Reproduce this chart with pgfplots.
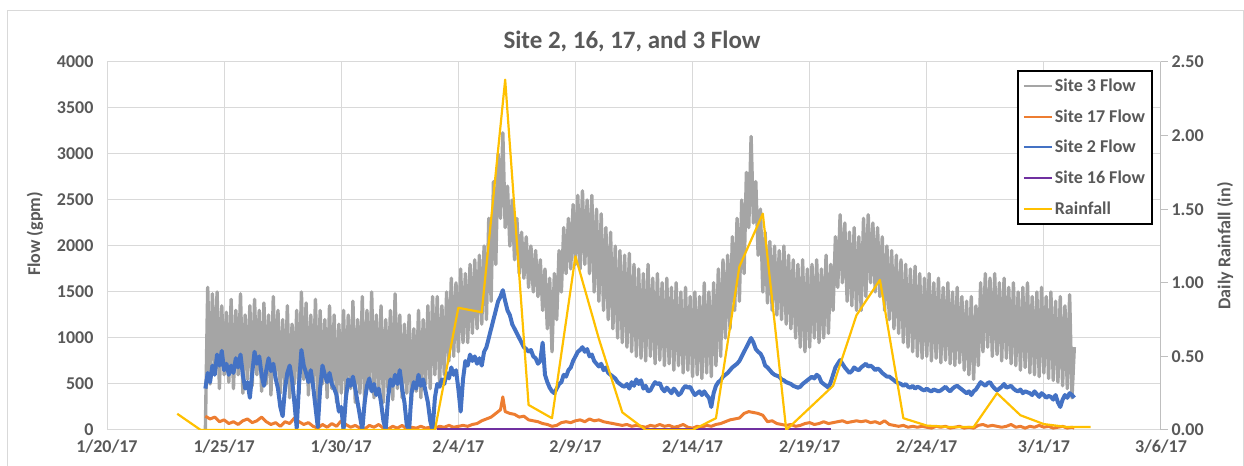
\documentclass[border=0pt]{standalone}
\usepackage{fontspec}
\setmainfont{Carlito}
\usepackage{pgfplots}
\pgfplotsset{compat=1.18}
\definecolor{cgray}{HTML}{A5A5A5}
\definecolor{corange}{HTML}{ED7D31}
\definecolor{cblue}{HTML}{4472C4}
\definecolor{cpurple}{HTML}{7030A0}
\definecolor{cyellow}{HTML}{FFC000}
\definecolor{ctext}{HTML}{595959}
\definecolor{cgrid}{HTML}{D9D9D9}
\definecolor{caxis}{HTML}{BFBFBF}
\begin{document}
\begin{tikzpicture}[x=1bp,y=1bp]
\useasboundingbox (0,0) rectangle (1244,466);
\draw[cgrid, line width=1bp] (7,-20) -- (7,455) -- (1243,455) -- (1243,-20);
\begin{axis}[
 at={(107bp,36bp)}, anchor=south west, scale only axis, width=1054bp, height=368bp,
 xmin=0, xmax=45, ymin=0, ymax=4000,
 xtick={0,5,10,15,20,25,30,35,40,45},
 xticklabels={1/20/17,1/25/17,1/30/17,2/4/17,2/9/17,2/14/17,2/19/17,2/24/17,3/1/17,3/6/17},
 ytick={0,500,1000,1500,2000,2500,3000,3500,4000},
 axis line style={draw=none}, major tick length=0pt,
 grid=major, major grid style={cgrid, line width=1bp},
 tick label style={font=\fontsize{18bp}{21bp}\selectfont\bfseries, text=ctext},
 /pgf/number format/assume math mode=true,
 /pgf/number format/1000 sep={},
 yticklabel style={xshift=-10bp},
 xticklabel style={yshift=-6bp},
]
\addplot[cgray, line width=3.4bp, line join=round] coordinates {
(4.2,0)(4.3,1550)(4.4,500)(4.5,1480)(4.6,650)(4.7,1500)(4.8,450)(4.9,1350)(5.0,600)(5.1,1280)(5.2,520)(5.3,1420)(5.4,450)(5.5,1300)(5.6,600)(5.7,1480)(5.8,400)(5.9,1250)(6.0,550)(6.1,1350)(6.2,480)(6.3,1420)(6.4,600)(6.5,1300)(6.6,420)(6.7,1380)(6.8,500)(6.9,1250)(7.0,380)(7.1,1450)(7.2,550)(7.3,1300)(7.4,400)(7.5,1200)(7.6,450)(7.7,1350)(7.8,350)(7.9,1150)(8.0,500)(8.1,1300)(8.2,400)(8.3,1500)(8.4,550)(8.5,1380)(8.6,380)(8.7,1250)(8.8,450)(8.9,1420)(9.0,300)(9.1,1300)(9.2,500)(9.3,1200)(9.4,350)(9.5,1350)(9.6,450)(9.7,1250)(9.8,300)(9.9,1150)(10.0,400)(10.1,1300)(10.2,350)(10.3,1250)(10.4,450)(10.5,1400)(10.6,300)(10.7,1200)(10.8,400)(10.9,1450)(11.0,280)(11.1,1300)(11.2,450)(11.3,1500)(11.4,350)(11.5,1250)(11.6,400)(11.7,1350)(11.8,300)(11.9,1200)(12.0,420)(12.1,1300)(12.2,330)(12.3,1480)(12.4,450)(12.5,1250)(12.6,350)(12.7,1150)(12.8,400)(12.9,1250)(13.0,300)(13.1,1100)(13.2,420)(13.3,1300)(13.4,350)(13.5,1200)(13.6,500)(13.7,1350)(13.8,450)(13.9,1450)(14.0,600)(14.1,1450)
(14.2,500)(14.3,1350)(14.4,600)(14.5,1500)(14.6,750)(14.7,1650)(14.8,800)(14.9,1600)(15.0,850)(15.1,1750)(15.2,950)(15.3,1700)(15.4,950)(15.5,1800)(15.6,1050)(15.7,1850)(15.8,1100)(15.9,1900)(16.0,1150)(16.1,2000)(16.2,1200)(16.3,2300)(16.4,1400)(16.5,2700)(16.6,1800)(16.7,3000)(16.8,2300)(16.9,3230)(17.0,2200)(17.1,2650)(17.2,2000)(17.3,2500)(17.4,1850)(17.5,2300)(17.6,1700)(17.7,2150)(17.8,1650)(17.9,2100)(18.0,1550)(18.1,2000)(18.2,1500)(18.3,1950)(18.4,1450)(18.5,1850)(18.6,1300)(18.7,1750)(18.8,1100)(18.9,1650)(19.0,850)(19.1,1700)(19.2,1200)(19.3,1950)(19.4,1500)(19.5,2200)(19.6,1700)(19.7,2300)(19.8,1750)(19.9,2450)(20.0,1800)(20.1,2550)
(20.2,1750)(20.3,2600)(20.4,1800)(20.5,2500)(20.6,1700)(20.7,2550)(20.8,1500)(20.9,2400)(21.0,1400)(21.1,2350)(21.2,1300)(21.3,2200)(21.4,1200)(21.5,2150)(21.6,1100)(21.7,2000)(21.8,1000)(21.9,1950)(22.0,950)(22.1,1900)(22.2,900)(22.3,1920)(22.4,850)(22.5,1800)(22.6,800)(22.7,1750)(22.8,780)(22.9,1700)(23.0,750)(23.1,1800)(23.2,800)(23.3,1650)(23.4,720)(23.5,1700)(23.6,760)(23.7,1600)(23.8,700)(23.9,1650)(24.0,720)(24.1,1550)(24.2,650)(24.3,1600)(24.4,700)(24.5,1500)(24.6,620)(24.7,1550)(24.8,650)(24.9,1450)(25.0,580)(25.1,1500)(25.2,600)(25.3,1450)(25.4,560)(25.5,1600)(25.6,620)(25.7,1500)(25.8,580)(25.9,1600)(26.0,700)(26.1,1750)
(26.2,800)(26.3,1850)(26.4,1000)(26.5,1900)(26.6,1100)(26.7,2100)(26.8,1300)(26.9,2300)(27.0,1400)(27.1,2500)(27.2,1700)(27.3,2800)(27.4,2200)(27.5,3190)(27.6,2250)(27.7,2700)(27.8,1900)(27.9,2400)(28.0,1500)(28.1,2150)(28.2,1380)(28.3,2050)(28.4,1300)(28.5,2000)(28.6,1250)(28.7,1950)(28.8,1200)(28.9,2000)(29.0,1150)(29.1,1900)(29.2,1100)(29.3,1850)(29.4,1000)(29.5,1800)(29.6,900)(29.7,1850)(29.8,850)(29.9,1750)(30.0,900)(30.1,1800)(30.2,1000)(30.3,1850)(30.4,950)(30.5,1750)(30.6,1000)(30.7,1900)(30.8,1050)(30.9,1800)(31.0,1300)(31.1,2100)(31.2,1550)(31.3,2340)(31.4,1600)(31.5,2250)(31.6,1400)(31.7,2150)(31.8,1350)(31.9,2200)(32.0,1300)(32.1,2100)
(32.2,1300)(32.3,2300)(32.4,1450)(32.5,2340)(32.6,1600)(32.7,2250)(32.8,1500)(32.9,2200)(33.0,1450)(33.1,2100)(33.2,1300)(33.3,2000)(33.4,1200)(33.5,1950)(33.6,1100)(33.7,1900)(33.8,1050)(33.9,1850)(34.0,950)(34.1,1800)(34.2,900)(34.3,1750)(34.4,850)(34.5,1780)(34.6,800)(34.7,1700)(34.8,780)(34.9,1650)(35.0,800)(35.1,1700)(35.2,750)(35.3,1600)(35.4,780)(35.5,1650)(35.6,730)(35.7,1550)(35.8,760)(35.9,1600)(36.0,720)(36.1,1500)(36.2,700)(36.3,1550)(36.4,730)(36.5,1450)(36.6,650)(36.7,1400)(36.8,600)(36.9,1450)(37.0,550)(37.1,1350)(37.2,700)(37.3,1600)(37.4,850)(37.5,1700)(37.6,900)(37.7,1650)(37.8,800)(37.9,1700)(38.0,820)(38.1,1600)(38.2,750)(38.3,1650)(38.4,780)(38.5,1550)(38.6,720)(38.7,1600)(38.8,700)(38.9,1500)(39.0,650)(39.1,1550)(39.2,680)(39.3,1600)(39.4,620)(39.5,1450)(39.6,600)(39.7,1500)(39.8,580)(39.9,1550)(40.0,620)(40.1,1450)(40.2,560)(40.3,1500)(40.4,540)(40.5,1400)(40.6,520)(40.7,1450)(40.8,480)(40.9,1350)(41.0,450)(41.1,1470)(41.2,350)(41.3,900)
};
\addplot[corange, line width=3bp, line join=round] coordinates {
(4.2,150)(4.4,120)(4.6,140)(4.8,90)(5.0,110)(5.2,70)(5.4,90)(5.6,60)(5.8,100)(6.0,120)(6.2,80)(6.4,100)(6.6,140)(6.8,90)(7.0,60)(7.2,80)(7.4,40)(7.6,90)(7.8,70)(8.0,130)(8.2,90)(8.4,60)(8.6,80)(8.8,40)(9.0,20)(9.2,60)(9.4,30)(9.6,70)(9.8,40)(10.0,100)(10.2,60)(10.4,30)(10.6,50)(10.8,20)(11.0,10)(11.2,50)(11.4,30)(11.6,60)(11.8,20)(12.0,10)(12.2,40)(12.4,20)(12.6,50)(12.8,10)(13.0,30)(13.2,20)(13.4,40)(13.6,20)(13.8,30)(14.0,20)(14.2,40)(14.4,30)(14.6,50)(14.8,30)(15.0,40)(15.2,50)(15.4,40)(15.6,60)(15.8,70)(16.0,100)(16.2,120)(16.4,140)(16.6,180)(16.8,220)(16.9,360)(17.0,200)(17.2,180)(17.4,170)(17.6,140)(17.8,150)(18.0,110)(18.2,100)(18.4,90)(18.6,70)(18.8,60)(19.0,40)(19.2,50)(19.4,80)(19.6,90)(19.8,80)(20.0,100)(20.2,110)(20.4,90)(20.6,120)(20.8,100)(21.0,110)(21.2,90)(21.4,80)(21.6,70)(21.8,60)(22.0,50)(22.2,60)(22.4,40)(22.6,50)(22.8,40)(23.0,30)(23.2,50)(23.4,40)(23.6,60)(23.8,40)(24.0,50)(24.2,30)(24.4,40)(24.6,60)(24.8,30)(25.0,20)(25.2,40)(25.4,30)(25.6,50)(25.8,40)(26.0,60)(26.2,70)(26.4,90)(26.6,110)(26.8,120)(27.0,130)(27.2,180)(27.4,200)(27.6,190)(27.8,180)(28.0,160)(28.2,90)(28.4,100)(28.6,70)(28.8,60)(29.0,50)(29.2,60)(29.4,40)(29.6,50)(29.8,70)(30.0,80)(30.2,60)(30.4,70)(30.6,90)(30.8,70)(31.0,80)(31.2,90)(31.4,100)(31.6,80)(31.8,90)(32.0,100)(32.2,90)(32.4,100)(32.6,80)(32.8,90)(33.0,70)(33.2,100)(33.4,60)(33.6,50)(33.8,40)(34.0,50)(34.2,30)(34.4,40)(34.6,30)(34.8,40)(35.0,30)(35.2,20)(35.4,40)(35.6,30)(35.8,40)(36.0,20)(36.2,30)(36.4,40)(36.6,20)(36.8,30)(37.0,20)(37.2,50)(37.4,60)(37.6,40)(37.8,50)(38.0,40)(38.2,30)(38.4,40)(38.6,60)(38.8,30)(39.0,40)(39.2,20)(39.4,40)(39.6,30)(39.8,50)(40.0,30)(40.2,40)(40.4,20)(40.6,30)(40.8,40)(41.0,20)(41.2,30)(41.3,20)
};
\addplot[cblue, line width=4bp, line join=round] coordinates {
(4.2,450)(4.3,620)(4.4,520)(4.5,700)(4.6,600)(4.7,820)(4.8,700)(4.9,860)(5.0,650)(5.1,720)(5.2,600)(5.3,700)(5.4,620)(5.5,780)(5.6,680)(5.7,820)(5.8,600)(5.9,450)(6.0,520)(6.1,350)(6.2,620)(6.3,850)(6.4,720)(6.5,800)(6.6,600)(6.7,480)(6.8,650)(6.9,780)(7.0,640)(7.1,720)(7.2,560)(7.3,450)(7.4,250)(7.5,150)(7.6,450)(7.7,620)(7.8,700)(7.9,550)(8.0,300)(8.1,20)(8.2,500)(8.3,870)(8.4,700)(8.5,620)(8.6,520)(8.7,650)(8.8,480)(8.9,250)(9.0,30)(9.1,450)(9.2,700)(9.3,600)(9.4,520)(9.5,620)(9.6,500)(9.7,450)(9.8,380)(9.9,200)(10.0,250)(10.1,0)(10.2,350)(10.3,550)(10.4,480)(10.5,580)(10.6,450)(10.7,300)(10.8,150)(10.9,0)(11.0,300)(11.1,480)(11.2,560)(11.3,420)(11.4,500)(11.5,380)(11.6,450)(11.7,300)(11.8,100)(11.9,0)(12.0,350)(12.1,550)(12.2,480)(12.3,600)(12.4,500)(12.5,650)(12.6,450)(12.7,300)(12.8,50)(12.9,0)(13.0,400)(13.1,520)(13.2,450)(13.3,600)(13.4,480)(13.5,550)(13.6,420)(13.7,300)(13.8,100)(13.9,0)(14.0,350)(14.1,500)
(14.2,470)(14.3,550)(14.4,500)(14.5,620)(14.6,560)(14.7,680)(14.8,600)(14.9,650)(15.0,450)(15.1,200)(15.2,550)(15.3,750)(15.4,700)(15.5,820)(15.6,750)(15.7,800)(15.8,720)(15.9,780)(16.0,700)(16.1,850)(16.2,900)(16.3,1000)(16.4,1100)(16.5,1200)(16.6,1300)(16.7,1400)(16.8,1450)(16.9,1520)(17.0,1400)(17.1,1300)(17.2,1250)(17.3,1150)(17.4,1100)(17.5,1050)(17.6,1000)(17.7,950)(17.8,900)(17.9,880)(18.0,850)(18.1,870)(18.2,800)(18.3,780)(18.4,720)(18.5,750)(18.6,950)(18.7,600)(18.8,520)(18.9,460)(19.0,420)(19.1,400)(19.2,450)(19.3,500)(19.4,520)(19.5,600)(19.6,580)(19.7,650)(19.8,680)(19.9,750)(20.0,800)(20.1,850)
(20.2,870)(20.3,900)(20.4,850)(20.5,880)(20.6,800)(20.7,820)(20.8,750)(20.9,720)(21.0,690)(21.1,720)(21.2,650)(21.3,680)(21.4,620)(21.5,600)(21.6,580)(21.7,560)(21.8,520)(21.9,500)(22.0,480)(22.1,470)(22.2,500)(22.3,450)(22.4,520)(22.5,480)(22.6,550)(22.7,500)(22.8,540)(22.9,450)(23.0,480)(23.1,420)(23.2,430)(23.3,480)(23.4,520)(23.5,500)(23.6,510)(23.7,450)(23.8,420)(23.9,460)(24.0,430)(24.1,400)(24.2,450)(24.3,420)(24.4,380)(24.5,400)(24.6,450)(24.7,480)(24.8,460)(24.9,470)(25.0,420)(25.1,380)(25.2,400)(25.3,420)(25.4,380)(25.5,420)(25.6,380)(25.7,350)(25.8,250)(25.9,400)(26.0,480)(26.1,520)
(26.2,540)(26.3,580)(26.4,600)(26.5,620)(26.6,650)(26.7,680)(26.8,700)(26.9,720)(27.0,750)(27.1,800)(27.2,850)(27.3,900)(27.4,950)(27.5,1000)(27.6,950)(27.7,880)(27.8,850)(27.9,830)(28.0,780)(28.1,700)(28.2,680)(28.3,650)(28.4,620)(28.5,600)(28.6,590)(28.7,580)(28.8,550)(28.9,540)(29.0,520)(29.1,510)(29.2,500)(29.3,480)(29.4,470)(29.5,460)(29.6,470)(29.7,500)(29.8,520)(29.9,540)(30.0,560)(30.1,580)(30.2,560)(30.3,600)(30.4,580)(30.5,520)(30.6,500)(30.7,480)(30.8,460)(30.9,520)(31.0,600)(31.1,680)(31.2,720)(31.3,760)(31.4,720)(31.5,680)(31.6,650)(31.7,620)(31.8,640)(31.9,680)(32.0,660)(32.1,650)
(32.2,680)(32.3,700)(32.4,720)(32.5,690)(32.6,700)(32.7,680)(32.8,650)(32.9,670)(33.0,650)(33.1,620)(33.2,600)(33.3,580)(33.4,580)(33.5,560)(33.6,540)(33.7,520)(33.8,510)(33.9,500)(34.0,480)(34.1,500)(34.2,470)(34.3,460)(34.4,480)(34.5,450)(34.6,470)(34.7,460)(34.8,440)(34.9,430)(35.0,450)(35.1,430)(35.2,420)(35.3,440)(35.4,430)(35.5,420)(35.6,430)(35.7,450)(35.8,470)(35.9,440)(36.0,420)(36.1,450)(36.2,470)(36.3,480)(36.4,460)(36.5,440)(36.6,420)(36.7,400)(36.8,420)(36.9,380)(37.0,420)(37.1,440)(37.2,480)(37.3,520)(37.4,500)(37.5,480)(37.6,510)(37.7,520)(37.8,480)(37.9,450)(38.0,430)(38.1,450)(38.2,470)(38.3,500)(38.4,460)(38.5,470)(38.6,480)(38.7,450)(38.8,430)(38.9,420)(39.0,440)(39.1,400)(39.2,420)(39.3,410)(39.4,400)(39.5,380)(39.6,420)(39.7,390)(39.8,360)(39.9,400)(40.0,380)(40.1,350)(40.2,370)(40.3,360)(40.4,330)(40.5,380)(40.6,300)(40.7,250)(40.8,330)(40.9,380)(41.0,350)(41.1,400)(41.2,380)(41.3,350)
};
\addplot[cpurple, line width=2.5bp] coordinates {(14.1,5)(22,5)(30.9,5)};
\end{axis}
\begin{axis}[
 at={(107bp,36bp)}, anchor=south west, scale only axis, width=1054bp, height=368bp,
 xmin=0, xmax=45, ymin=0, ymax=2.5,
 axis x line=none, axis y line*=right,
 axis line style={-, caxis, line width=1bp},
 ytick={0,0.5,1,1.5,2,2.5},
 tick align=outside, major tick length=7bp, tick style={caxis, line width=1bp},
 tick label style={font=\fontsize{18bp}{21bp}\selectfont\bfseries, text=ctext},
 /pgf/number format/assume math mode=true,
 yticklabel style={/pgf/number format/.cd, fixed, fixed zerofill, precision=2},
 legend cell align=left,
 legend style={at={(0.9924,0.978)}, anchor=north east, draw=black, line width=2bp, fill=white,
   font=\fontsize{18bp}{21bp}\selectfont\bfseries, text=ctext, row sep=12.5bp, inner xsep=5bp, inner ysep=6bp},
 legend image code/.code={\draw[#1, line width=2bp] (0bp,0bp) -- (28bp,0bp);},
]
\addlegendimage{cgray}\addlegendentry{Site 3 Flow}
\addlegendimage{corange}\addlegendentry{Site 17 Flow}
\addlegendimage{cblue}\addlegendentry{Site 2 Flow}
\addlegendimage{cpurple}\addlegendentry{Site 16 Flow}
\addplot[cyellow, line width=2.2bp, line join=round] coordinates {
(3,0.11)(4,0)(5,0)(6,0)(7,0)(8,0)(9,0)(10,0)(11,0)(12,0)(13,0)(14,0)(15,0.83)(16,0.80)(17,2.38)(18,0.17)(19,0.08)(20,1.18)(21,0.62)(22,0.12)(23,0)(24,0)(25,0)(26,0.08)(27,1.11)(28,1.47)(29,0)(30,0.15)(31,0.30)(32,0.78)(33,1.02)(34,0.08)(35,0.03)(36,0.02)(37,0.02)(38,0.25)(39,0.10)(40,0.04)(41,0.02)(42,0.02)
};
\addlegendentry{Rainfall}
\end{axis}
\node[font=\fontsize{25bp}{30bp}\selectfont\bfseries, text=ctext] at (632,425) {Site 2, 16, 17, and 3 Flow};
\node[rotate=90, font=\fontsize{18bp}{21bp}\selectfont\bfseries, text=ctext] at (35,232) {Flow (gpm)};
\node[rotate=90, font=\fontsize{18bp}{21bp}\selectfont\bfseries, text=ctext] at (1225,220) {Daily Rainfall (in)};
\end{tikzpicture}
\end{document}
